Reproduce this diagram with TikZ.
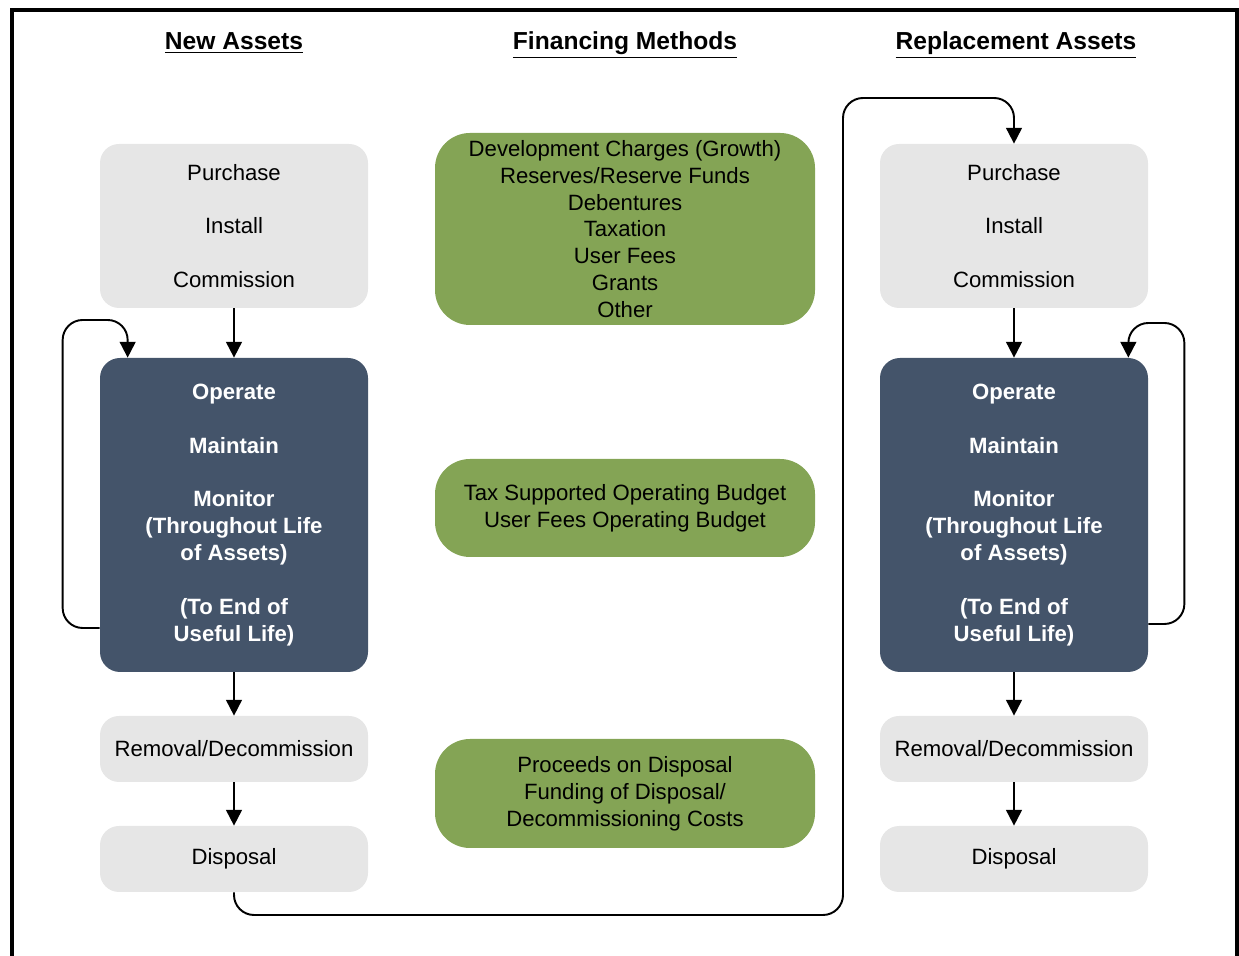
\documentclass[tikz,border=0pt]{standalone}
\usepackage{fontspec}
\setmainfont{Liberation Sans}
\usetikzlibrary{arrows.meta}

\definecolor{boxgrey}{HTML}{E6E6E6}
\definecolor{boxslate}{HTML}{44546A}
\definecolor{boxgreen}{HTML}{84A455}

\tikzset{
	greybox/.style   = {rectangle, rounded corners=0.38cm, fill=boxgrey, minimum width=5.36cm, align=center,
	                    font=\fontsize{12.6}{15.3}\selectfont},
	darkbox/.style   = {rectangle, rounded corners=0.4cm, fill=boxslate, text=white, minimum width=5.36cm, align=center,
	                    font=\fontsize{12.6}{15.3}\selectfont\bfseries},
	greenbox/.style  = {rectangle, rounded corners=0.7cm, fill=boxgreen, minimum width=7.6cm, align=center,
	                    font=\fontsize{12.6}{15.3}\selectfont},
	heading/.style   = {anchor=base, font=\fontsize{14}{16}\selectfont\bfseries},
	conn/.style      = {line width=1.1pt, rounded corners=0.4cm, -{Triangle[length=9pt,width=9pt]}}
}

\begin{document}
\begin{tikzpicture}
	\useasboundingbox (0,0) rectangle (24.78,19.12);
	% frame
	\draw[line width=0.08cm] (0.24,0) -- (0.24,18.92) -- (24.74,18.92) -- (24.74,0);

	% headings
	\node (hN) at ( 4.68, 18.12)	[heading]	{\underline{New Assets}};
	\node (hF) at (12.50, 18.12)	[heading]	{\underline{Financing Methods}};
	\node (hR) at (20.32, 18.12)	[heading]	{\underline{Replacement Assets}};

	% new assets
	\node (pL) at ( 4.68, 14.60)	[greybox, minimum height=3.28cm]	{Purchase\\[15.3pt]Install\\[15.3pt]Commission};
	\node (oL) at ( 4.68,  8.82)	[darkbox, minimum height=6.28cm]	{Operate\\[15.3pt]Maintain\\[15.3pt]Monitor\\(Throughout Life\\of Assets)\\[15.3pt](To End of\\Useful Life)};
	\node (rL) at ( 4.68,  4.14)	[greybox, minimum height=1.32cm]	{Removal/Decommission};
	\node (dL) at ( 4.68,  1.94)	[greybox, minimum height=1.32cm]	{Disposal};

	% financing methods
	\node (f1) at (12.50, 14.54)	[greenbox, minimum height=3.84cm]	{Development Charges (Growth)\\Reserves/Reserve Funds\\Debentures\\Taxation\\User Fees\\Grants\\Other};
	\node (f2) at (12.50,  8.96)	[greenbox, minimum height=1.96cm]	{Tax Supported Operating Budget\\User Fees Operating Budget};
	\node (f3) at (12.50,  3.25)	[greenbox, minimum height=2.18cm]	{Proceeds on Disposal\\Funding of Disposal/\\Decommissioning Costs};

	% replacement assets
	\node (pR) at (20.28, 14.60)	[greybox, minimum height=3.28cm]	{Purchase\\[15.3pt]Install\\[15.3pt]Commission};
	\node (oR) at (20.28,  8.82)	[darkbox, minimum height=6.28cm]	{Operate\\[15.3pt]Maintain\\[15.3pt]Monitor\\(Throughout Life\\of Assets)\\[15.3pt](To End of\\Useful Life)};
	\node (rR) at (20.28,  4.14)	[greybox, minimum height=1.32cm]	{Removal/Decommission};
	\node (dR) at (20.28,  1.94)	[greybox, minimum height=1.32cm]	{Disposal};

	\draw[conn] (pL) -- (oL);
	\draw[conn] (oL) -- (rL);
	\draw[conn] (rL) -- (dL);
	\draw[conn] (pR) -- (oR);
	\draw[conn] (oR) -- (rR);
	\draw[conn] (rR) -- (dR);

	% loops
	\draw[conn] ([yshift=-2.26cm]oL.west) -- ++(-0.74,0) -- ++(0,6.16) -| ([xshift=0.56cm]oL.north west);
	\draw[conn] ([yshift=-2.18cm]oR.east) -- ++(0.72,0) -- ++(0,6.02) -| ([xshift=-0.4cm]oR.north east);
	\draw[conn] (dL.south) |- (16.86,0.82) -- (16.86,17.16) -| (pR.north);
\end{tikzpicture}
\end{document}
